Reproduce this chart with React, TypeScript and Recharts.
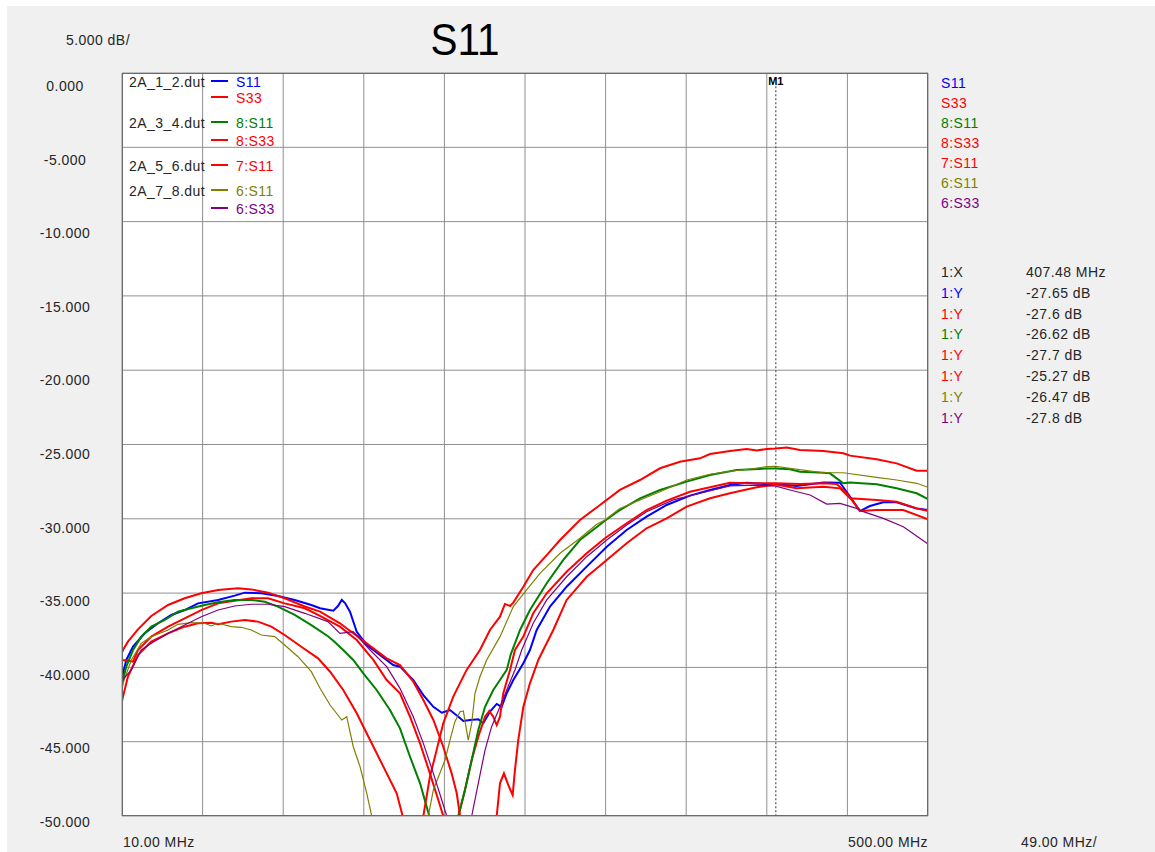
import { LineChart, Line, XAxis, YAxis, CartesianGrid, ReferenceLine, ReferenceDot } from 'recharts';

type Pt = [number, number];

// sweep setup, MHz / dB
const X_GRID = [10, 59, 108, 157, 206, 255, 304, 353, 402, 451, 500];
const Y_TICKS = [0, -5, -10, -15, -20, -25, -30, -35, -40, -45, -50];
const START_LABEL = '10.00 MHz';
const STOP_LABEL = '500.00 MHz';
const SPAN_LABEL = '49.00 MHz/';
const SCALE_LABEL = '5.000 dB/';

// marker 1 readout
const MARKER_MHZ = 407.48;
const MARKER_DB = [-27.65, -27.6, -26.62, -27.7, -25.27, -26.47, -27.8];

const TRACE_NAMES = ['S11', 'S33', '8:S11', '8:S33', '7:S11', '6:S11', '6:S33'];
const DUT_NAMES = ['2A_1_2.dut', '', '2A_3_4.dut', '', '2A_5_6.dut', '2A_7_8.dut', ''];
const TRACE_COLORS = ['#0000ff', '#ff0000', '#008000', '#ff0000', '#ff0000', '#808000', '#800080'];

// 2A_1_2 S11
const s11_12: Pt[] = [
  [10, -40.8], [10.6, -40.4], [12.6, -39.5], [16.7, -38.6], [23.8, -37.7], [31.9, -37.03], [40, -36.47],
  [48.1, -36.14], [56.2, -35.69], [68.4, -35.46], [78.5, -35.17], [84.6, -34.97], [94.7, -35.01],
  [104.8, -35.2], [115, -35.46], [125.1, -35.8], [130.4, -36.02], [138.5, -36.18], [141.3, -35.87],
  [143.6, -35.46], [145.6, -35.67], [148.6, -36.25], [152.7, -37.6], [158.8, -38.49], [166.8, -39.17],
  [174.9, -39.84], [179, -39.95], [187.1, -40.85], [193.2, -41.86], [199.3, -42.65], [204.4, -43.05],
  [209.4, -42.87], [214.5, -43.32], [217.5, -43.61], [221.6, -43.54], [226.6, -43.49], [229.6, -43.76],
  [233.7, -42.98], [237.8, -42.46], [240.8, -42.65], [243.9, -41.74], [247.9, -40.85], [254, -39.72],
  [258, -38.83], [262.1, -37.48], [270.2, -35.91], [280.3, -34.57], [292.5, -33.22], [304.7, -31.88],
  [316.8, -30.75], [328.9, -29.86], [341.1, -29.07], [355.3, -28.44], [367.5, -28.06], [379.6, -27.73],
  [389.8, -27.57], [401.9, -27.68], [420.1, -27.79], [436.4, -27.55], [446.5, -27.57], [450.5, -28.18],
  [458.7, -29.48], [464.7, -29.14], [472.8, -28.89], [480.9, -28.89], [493.1, -29.3], [500, -29.41],
];

// 2A_1_2 S33
const s33_12: Pt[] = [
  [10, -39.5], [16.7, -39.61], [19.7, -38.83], [27.8, -37.93], [38, -37.26], [48.1, -36.7], [58.2, -36.14],
  [68.4, -35.69], [78.5, -35.51], [88.6, -35.35], [98.8, -35.35], [108.9, -35.69], [121.1, -36.02],
  [129.2, -36.47], [142.5, -37.26], [152.7, -38.16], [162.8, -39.5], [170.9, -40.85], [179, -41.74],
  [185.1, -43.32], [191.2, -45.11], [197.2, -47.13], [202.3, -48.92], [205.3, -50], [210, -53],
  [214.5, -50], [218.5, -48.25], [222.6, -46.23], [226.6, -44.66], [230.7, -43.32], [233.3, -42.93],
  [235.7, -43.32], [237.8, -43.88], [239.8, -43.32], [241.8, -41.74], [245.9, -40.17], [248.9, -38.83],
  [254, -37.93], [260, -36.36], [268.2, -35.01], [280.3, -33.56], [292.5, -32.32], [303.6, -31.31],
  [316.8, -30.3], [328.9, -29.41], [341.1, -28.78], [355.3, -28.18], [379.6, -27.57], [391.8, -27.61],
  [422.2, -27.66], [436.4, -27.61], [444.5, -27.66], [450.5, -28.28], [458.7, -29.48], [468.8, -29.41],
  [485, -29.41], [500, -30.03],
];

// 2A_3_4 8:S11
const s11_34: Pt[] = [
  [10, -41.3], [10.6, -40.85], [12.6, -39.95], [16.7, -38.83], [21.7, -37.93], [27.8, -37.26], [36, -36.81],
  [44, -36.25], [52.1, -36.02], [60.3, -35.8], [68.4, -35.62], [78.5, -35.46], [88.6, -35.46],
  [96.8, -35.58], [104.8, -35.91], [115, -36.47], [125.1, -37.15], [135.2, -37.9], [138.5, -38.2],
  [144.5, -38.83], [150.6, -39.5], [156.7, -40.4], [164.8, -41.52], [172.9, -42.87], [179, -44.1],
  [185.1, -46.01], [191.2, -47.8], [195.2, -49.37], [196.8, -50], [205.5, -55], [214.5, -50],
  [218.5, -48.25], [222.6, -46.23], [226.6, -44.21], [230.7, -42.65], [235.7, -41.52], [239.8, -40.85],
  [243.9, -40.17], [246.4, -39.1], [252, -37.48], [258, -36.14], [268.2, -34.34], [278.3, -32.77],
  [288.4, -31.43], [303.6, -30.13], [312.7, -29.41], [324.9, -28.62], [337.1, -28.06], [353.3, -27.5],
  [367.5, -27.05], [383.7, -26.72], [401.9, -26.62], [416.1, -26.67], [422.2, -26.83], [436.4, -26.9],
  [440.4, -26.94], [444.5, -27.28], [448.5, -27.61], [452.6, -27.55], [468.8, -27.68], [480.9, -27.95],
  [493.1, -28.28], [500, -28.67],
];

// 2A_3_4 8:S33
const s33_34: Pt[] = [
  [10, -39.0], [10.6, -38.83], [13.6, -38.27], [19.7, -37.44], [27.8, -36.54], [38, -35.8], [48.1, -35.35],
  [58.2, -35.01], [68.4, -34.79], [80.5, -34.68], [88.6, -34.75], [98.8, -34.97], [108.9, -35.35],
  [121.1, -35.9], [130.4, -36.25], [142.5, -37.03], [154.7, -38.04], [170.9, -39.39], [179, -39.84],
  [187.1, -40.96], [193.2, -42.19], [199.3, -43.54], [205.3, -45.34], [210.4, -47.13], [213.5, -48.47],
  [215.5, -50], [226, -56], [237.8, -50], [239.8, -47.8], [242.2, -47.13], [244.8, -47.91],
  [247.5, -48.59], [248.9, -46.9], [250.9, -44.89], [254, -42.65], [258, -41.07], [263.1, -39.5],
  [266.1, -38.83], [272.2, -37.48], [280.3, -35.46], [292.5, -33.9], [304.7, -32.77], [316.8, -31.65],
  [328.9, -30.64], [341.1, -29.97], [353.3, -29.18], [367.5, -28.62], [379.6, -28.28], [395.8, -27.88],
  [420.1, -27.95], [436.4, -27.84], [446.5, -27.95], [452.6, -28.62], [468.8, -28.73], [480.9, -28.85],
  [493.1, -29.3], [500, -29.48],
];

// 2A_5_6 7:S11
const s11_56: Pt[] = [
  [10, -42.3], [10.6, -41.97], [13.6, -40.62], [19.7, -39.17], [27.8, -38.27], [38, -37.71], [48.1, -37.26],
  [56.2, -37.03], [64.3, -36.99], [68.4, -37.1], [76.4, -36.92], [84.6, -36.81], [92.7, -36.92],
  [100.8, -37.26], [108.9, -37.82], [119, -38.61], [129.2, -39.39], [136.5, -40.29], [144.5, -41.52],
  [152.7, -43.09], [160.8, -44.89], [168.9, -46.68], [177, -48.47], [180.6, -50], [187, -53],
  [193.2, -50], [197.2, -47.35], [201.3, -45.55], [205.3, -43.76], [211.4, -41.97], [219.5, -40.17],
  [227.6, -38.83], [233.7, -37.48], [239.8, -36.59], [242.8, -35.73], [245.9, -35.87], [247.9, -35.64],
  [254, -34.57], [260, -33.45], [268.2, -32.44], [276.3, -31.43], [288.4, -30.08], [300.6, -29.07],
  [312.7, -28.06], [324.9, -27.39], [337.1, -26.6], [349.2, -26.16], [361.4, -25.93], [367.5, -25.64],
  [379.6, -25.44], [389.8, -25.3], [395.8, -25.41], [401.9, -25.3], [414.1, -25.21], [422.2, -25.37],
  [436.4, -25.44], [448.5, -25.59], [452.6, -25.75], [468.8, -26.0], [480.9, -26.27], [493.1, -26.76],
  [500, -26.76],
];

// 2A_7_8 6:S11
const s11_78: Pt[] = [
  [10, -41.6], [10.6, -41.07], [15.7, -39.5], [21.7, -38.38], [27.8, -37.93], [38, -37.48], [44, -37.1],
  [52.1, -36.99], [60.3, -37.03], [64.3, -37.21], [68.4, -37.03], [76.4, -37.26], [82.5, -37.3],
  [88.6, -37.48], [94.7, -37.82], [102.8, -37.93], [108.9, -38.49], [117, -39.28], [125.1, -40.29],
  [130.4, -41.4], [136.5, -42.53], [143.6, -43.54], [146.6, -43.32], [150.6, -45.34], [154.7, -46.68],
  [158.8, -48.47], [161.8, -50], [179, -58], [196.2, -50], [199.3, -48.25], [203.3, -47.11],
  [206.4, -46.23], [209.4, -44.89], [212.4, -43.65], [215.5, -42.98], [217.5, -42.93], [220.5, -44.89],
  [222.6, -43.76], [224.6, -41.74], [227.6, -40.63], [231.7, -39.5], [239.8, -37.93], [247.9, -35.91],
  [256, -34.79], [264.1, -33.67], [276.3, -32.32], [288.4, -31.31], [298.6, -30.37], [303.6, -30.08],
  [312.7, -29.3], [324.9, -28.73], [337.1, -28.18], [353.3, -27.39], [367.5, -27.0], [379.6, -26.8],
  [391.8, -26.65], [401.9, -26.49], [416.1, -26.6], [424.2, -26.72], [436.4, -26.9], [448.5, -26.9],
  [468.8, -27.21], [480.9, -27.39], [493.1, -27.61], [500, -27.88],
];

// 2A_7_8 6:S33
const s33_78: Pt[] = [
  [10, -41.2], [10.6, -40.8], [15.7, -40.17], [21.7, -38.83], [27.8, -38.38], [38, -37.71], [48.1, -37.15],
  [58.2, -36.59], [68.4, -36.14], [78.5, -35.87], [88.6, -35.75], [98.8, -35.75], [108.9, -35.91],
  [121.1, -36.36], [135.2, -36.92], [142.5, -37.71], [150.6, -37.6], [160.8, -38.83], [170.9, -39.95],
  [179, -41.41], [187.1, -43.32], [193.2, -45.11], [199.3, -47.13], [204.4, -48.92], [207.4, -50],
  [215, -54], [222.6, -50], [226.6, -47.8], [230.7, -45.56], [234.7, -43.99], [239.8, -42.65],
  [243.9, -41.52], [248.9, -40.17], [253, -38.83], [260, -37.03], [268.2, -35.46], [280.3, -33.9],
  [292.5, -32.55], [304.7, -31.43], [316.8, -30.42], [328.9, -29.52], [345.2, -28.73], [361.4, -28.28],
  [379.6, -27.79], [395.8, -27.73], [416.1, -28.06], [428.3, -28.4], [438.4, -29.01], [446.5, -28.96],
  [456.6, -29.3], [460.7, -29.52], [472.8, -29.97], [485, -30.53], [500, -31.7],
];

const TRACE_POINTS = [s11_12, s33_12, s11_34, s33_34, s11_56, s11_78, s33_78];
const THIN = [false, false, false, false, false, true, true];

// each trace passes through its marker reading
const withMarker = (pts: Pt[], db: number) =>
  [...pts, [MARKER_MHZ, db] as Pt].sort((a, b) => a[0] - b[0]).map(([f, v]) => ({ f, db: v }));

const traces = TRACE_POINTS.map((pts, i) => ({
  name: TRACE_NAMES[i],
  color: TRACE_COLORS[i],
  width: THIN[i] ? 1.2 : 2,
  data: withMarker(pts, MARKER_DB[i]),
}));

const W = 1155;
const H = 852;
const PLOT = { left: 122, top: 73, right: 928, bottom: 816 };
const FONT = '"Liberation Sans", Arial, sans-serif';
const TEXT = '#262626';
const FS = 14;
const SPACING = '0.45px';

const renderYTick = (props: any) => {
  const { x, y, payload } = props;
  // labels drift slightly up relative to the grid as they go down
  return (
    <text x={x - 57} y={y + 13 + payload.value * 0.14} textAnchor="middle" dominantBaseline="central"
      fontSize={FS} fontFamily={FONT} fill={TEXT} letterSpacing={SPACING}>
      {Number(payload.value).toFixed(3)}
    </text>
  );
};

const label = (left: number, cy: number, text: string, color = TEXT, extra: any = {}) => (
  <div style={{ position: 'absolute', left, top: cy - 8, height: 16, lineHeight: '16px', fontSize: FS,
    fontFamily: FONT, letterSpacing: SPACING, color, whiteSpace: 'nowrap', ...extra }}>{text}</div>
);

const LEGEND_ROWS = [82, 98, 123, 141, 166, 191, 209];

export default function App() {
  return (
    <div style={{ position: 'absolute', left: 0, top: 0, width: W, height: H, background: '#fff', overflow: 'hidden' }}>
      <div style={{ position: 'absolute', left: 7, top: 6, width: W - 7, height: H - 6, background: '#f0f0f0' }} />
      <div style={{ position: 'absolute', left: 0, top: 0 }}>
        <LineChart width={W} height={H}
          margin={{ left: 0, top: PLOT.top, right: W - PLOT.right, bottom: 0 }}>
          <CartesianGrid stroke="#8f8f8f" strokeWidth={1} fill="#ffffff" />
          <XAxis dataKey="f" type="number" domain={[10, 500]} ticks={X_GRID} allowDataOverflow
            height={H - PLOT.bottom} tick={() => <g />} axisLine={false} tickLine={false} interval={0} />
          <YAxis type="number" domain={[-50, 0]} ticks={Y_TICKS} allowDataOverflow width={PLOT.left}
            axisLine={false} tickLine={false} tickSize={0} tickMargin={0} tick={renderYTick} interval={0} />
          {traces.map((t) => (
            <Line key={t.name + t.color + t.data.length} data={t.data} dataKey="db" type="linear"
              stroke={t.color} strokeWidth={t.width} dot={false} activeDot={false} isAnimationActive={false} />
          ))}
          <ReferenceLine segment={[{ x: MARKER_MHZ, y: -0.9 }, { x: MARKER_MHZ, y: -50 }]}
            stroke="#555" strokeWidth={1.2} strokeDasharray="2 2" />
          <ReferenceDot x={MARKER_MHZ} y={0} r={0} stroke="none"
            label={{ value: 'M1', position: 'bottom', offset: 4, fill: '#000', fontSize: 11, fontWeight: 'bold', fontFamily: FONT }} />
        </LineChart>
      </div>
      <div style={{ position: 'absolute', left: PLOT.left, top: PLOT.top, width: PLOT.right - PLOT.left,
        height: PLOT.bottom - PLOT.top, border: '1px solid #6a6a6a', boxSizing: 'border-box' }} />

      {label(66, 40, SCALE_LABEL)}
      <div style={{ position: 'absolute', left: 365, width: 200, top: 15, height: 50, lineHeight: '50px',
        textAlign: 'center', fontSize: 44, fontFamily: FONT, color: '#000',
        transform: 'scaleX(0.92)' }}>S11</div>

      {/* legend inside the grid */}
      {traces.map((t, i) => (
        <div key={'lg' + i}>
          {DUT_NAMES[i] && label(129, LEGEND_ROWS[i], DUT_NAMES[i])}
          <div style={{ position: 'absolute', left: 211, top: LEGEND_ROWS[i] - 2, width: 17, height: 2, background: t.color }} />
          {label(236, LEGEND_ROWS[i], t.name, t.color)}
        </div>
      ))}

      {/* trace list and marker table on the right */}
      {traces.map((t, i) => label(941, 82.5 + i * 20, t.name, t.color))}
      {label(941, 272, '1:X')}
      {label(1026, 272, `${MARKER_MHZ} MHz`)}
      {MARKER_DB.map((v, i) => (
        <div key={'mk' + i}>
          {label(941, 292.8 + i * 20.8, '1:Y', TRACE_COLORS[i])}
          {label(1026, 292.8 + i * 20.8, `${v} dB`)}
        </div>
      ))}

      {label(123, 842, START_LABEL)}
      {label(PLOT.right - 120, 842, STOP_LABEL, TEXT, { width: 120, textAlign: 'right' })}
      {label(1021, 842, SPAN_LABEL)}
    </div>
  );
}
